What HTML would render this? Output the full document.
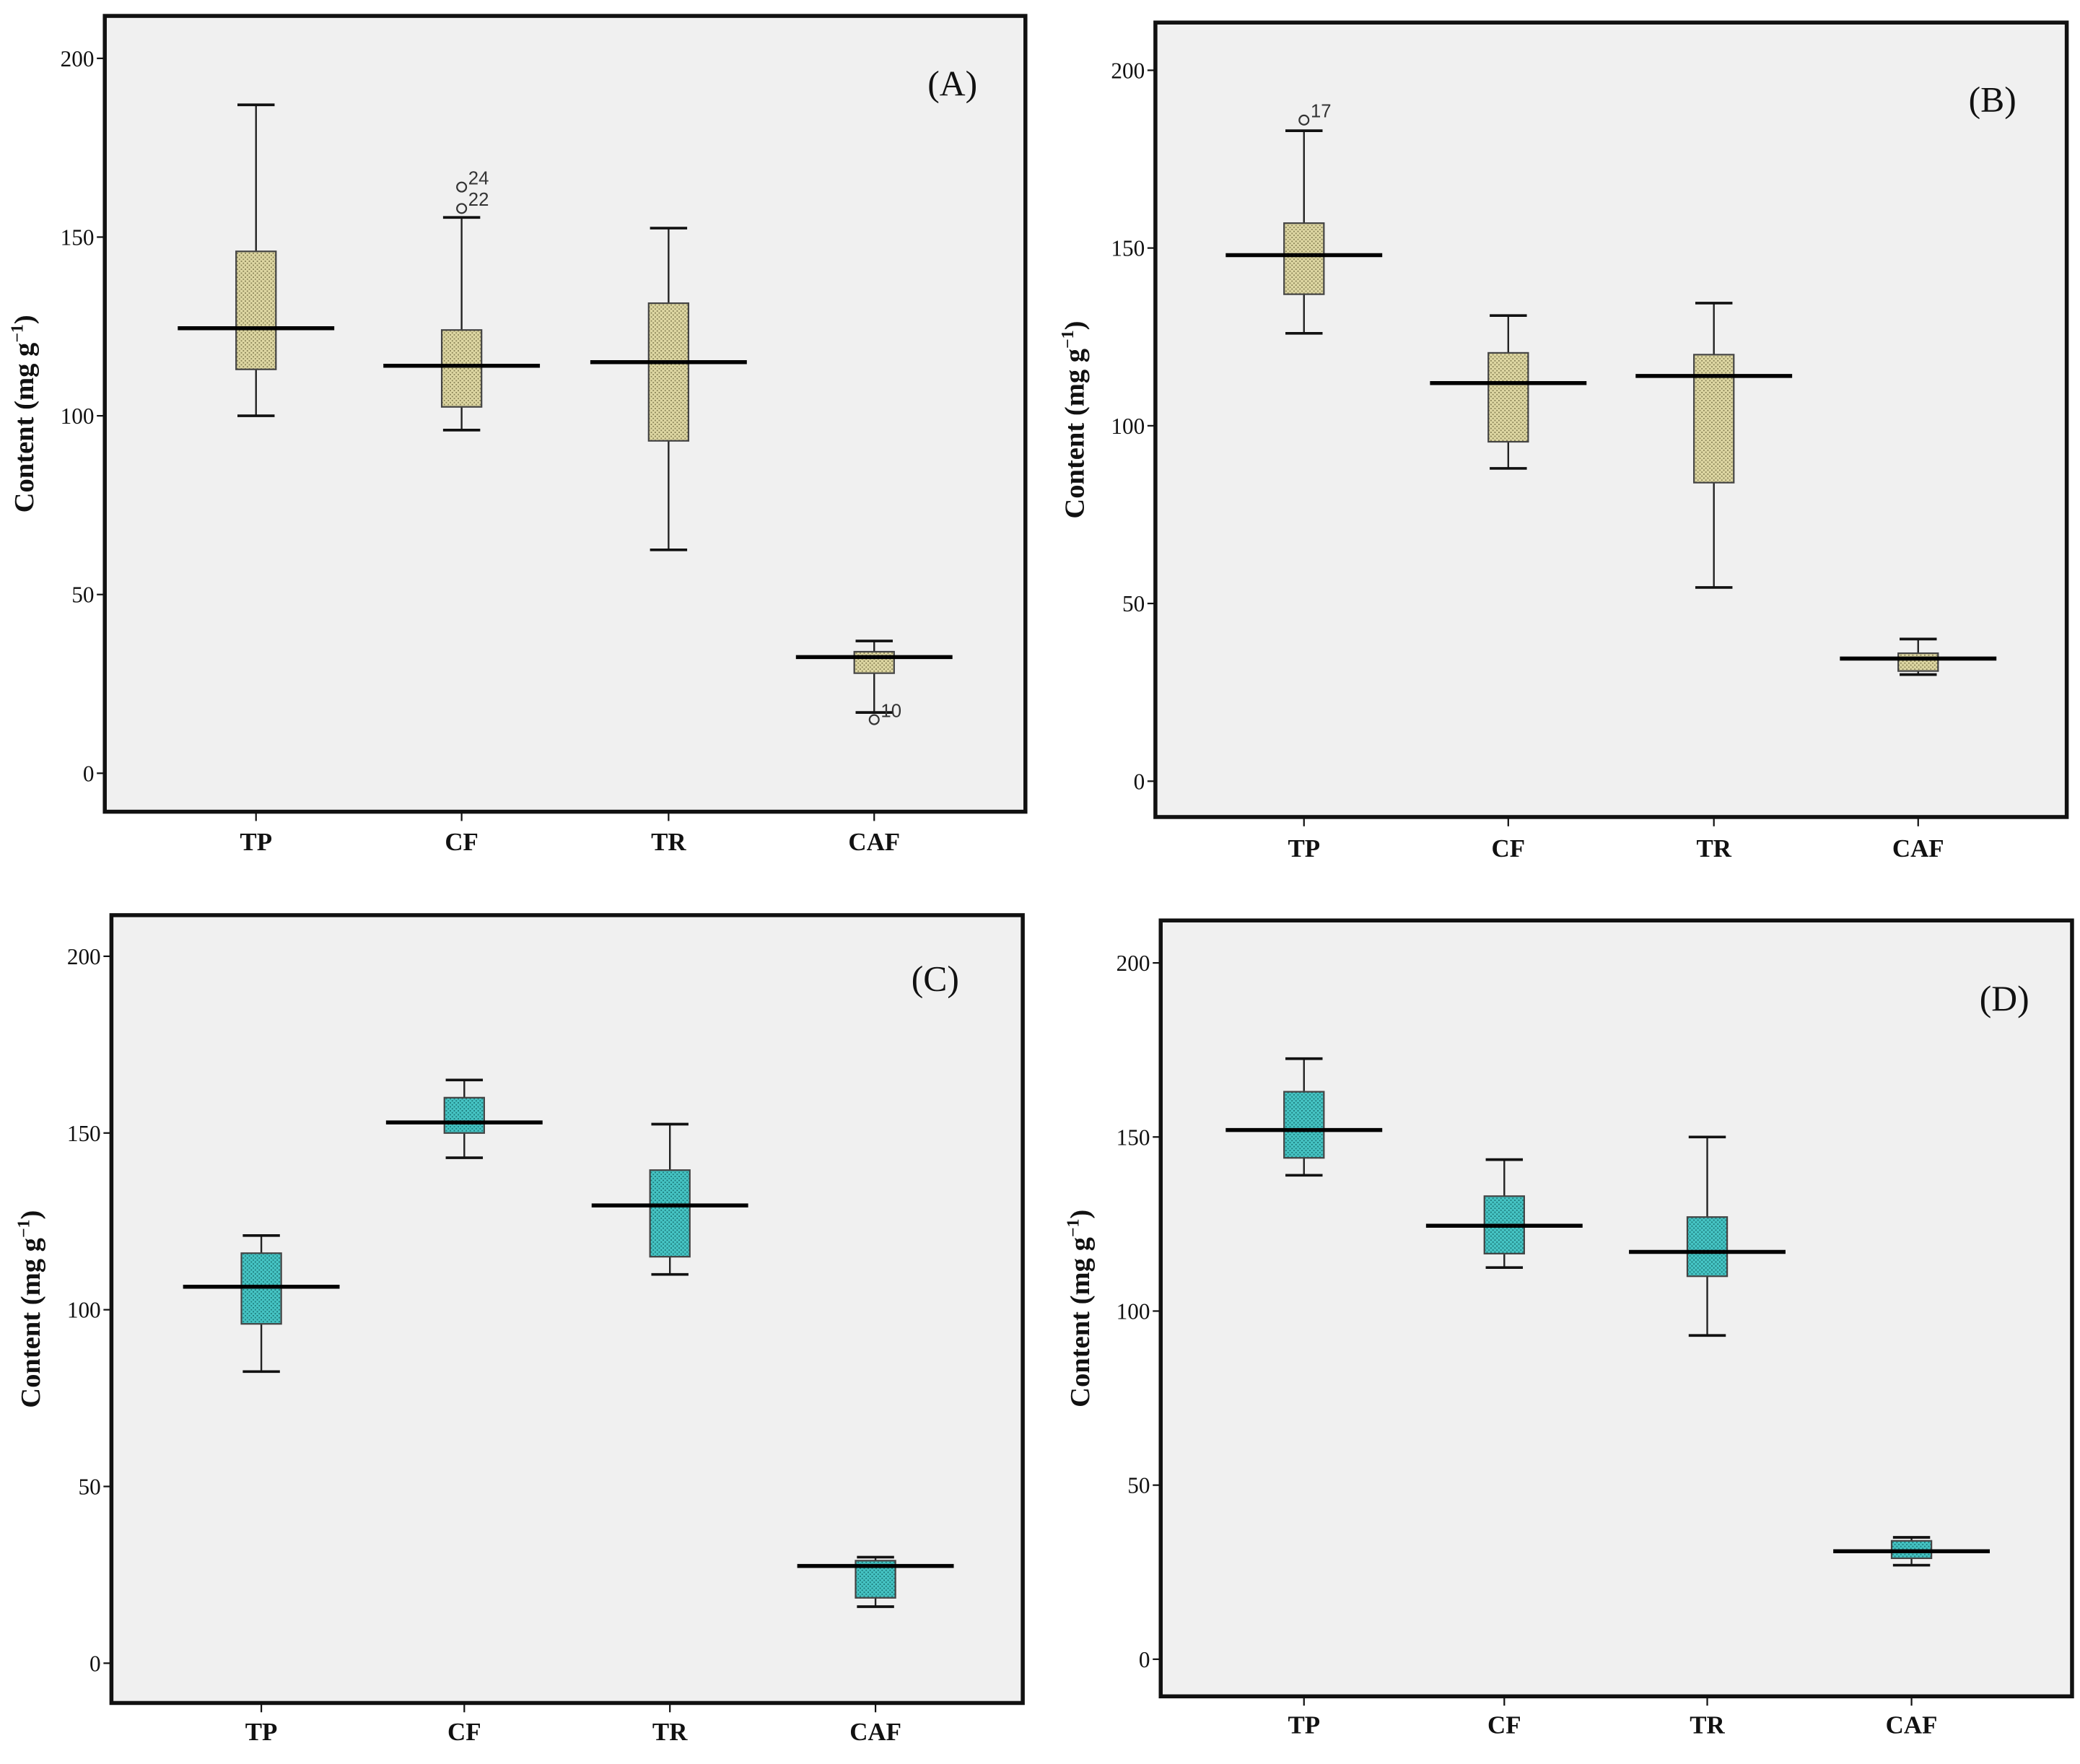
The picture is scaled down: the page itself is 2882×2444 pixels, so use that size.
<!DOCTYPE html>
<html><head><meta charset="utf-8"><style>
html,body{margin:0;padding:0;background:#fff;}
svg{display:block;}
</style></head><body>
<svg id="fig" width="2882" height="2444" viewBox="0 0 1568 1330" preserveAspectRatio="none" xmlns="http://www.w3.org/2000/svg">
<defs>
<pattern id="pTan" width="3" height="3" patternUnits="userSpaceOnUse"><rect width="3" height="3" fill="#ddd6a2"/><rect width="1" height="1" fill="#8a8458"/><rect x="1.5" y="1.5" width="1" height="1" fill="#8a8458"/></pattern>
<pattern id="pTeal" width="3" height="3" patternUnits="userSpaceOnUse"><rect width="3" height="3" fill="#45c3c3"/><rect width="1" height="1" fill="#1d7a7a"/><rect x="1.5" y="1.5" width="1" height="1" fill="#1d7a7a"/></pattern>
</defs>
</svg>
<script>
const categories = ["TP","CF","TR","CAF"];
const yTicks = [0,50,100,150,200];
// panel A
const aLow = [100,96,62.5,17], aQ1=[113,102.5,93,28], aMed=[124.5,114,115,32.5], aQ3=[146,124,131.5,34], aHigh=[187,155.5,152.5,37];
const aOutVals=[158,164,15], aOutCat=[1,1,3], aOutLbl=["22","24","10"];
// panel B
const bLow=[126,88,54.5,30], bQ1=[137,95.5,84,31], bMed=[148,112,114,34.5], bQ3=[157,120.5,120,36], bHigh=[183,131,134.5,40];
const bOutVals=[186], bOutCat=[0], bOutLbl=["17"];
// panel C
const cLow=[82.5,143,110,16], cQ1=[96,150,115,18.5], cMed=[106.5,153,129.5,27.5], cQ3=[116,160,139.5,29], cHigh=[121,165,152.5,30];
// panel D
const dLow=[139,112.5,93,27], dQ1=[144,116.5,110,29], dMed=[152,124.5,117,31], dQ3=[163,133,127,34], dHigh=[172.5,143.5,150,35];

const NS="http://www.w3.org/2000/svg";
const svg=document.getElementById('fig');
function mk(tag,attrs,parent){const e=document.createElementNS(NS,tag);for(const k in attrs)e.setAttribute(k,attrs[k]);(parent||svg).appendChild(e);return e;}

const panels=[
 {id:"a",label:"(A)",x0:79,x1:773,y0:12,y1:612,y200:44,yZero:583,cx:[193,348,504,659],catY:641,lx:718,ly:72,fill:"url(#pTan)",low:aLow,q1:aQ1,med:aMed,q3:aQ3,high:aHigh,ov:aOutVals,oc:aOutCat,ol:aOutLbl},
 {id:"b",label:"(B)",x0:871,x1:1558,y0:17,y1:616,y200:53,yZero:589,cx:[983,1137,1292,1446],catY:646,lx:1502,ly:84,fill:"url(#pTan)",low:bLow,q1:bQ1,med:bMed,q3:bQ3,high:bHigh,ov:bOutVals,oc:bOutCat,ol:bOutLbl},
 {id:"c",label:"(C)",x0:84,x1:771,y0:690,y1:1284,y200:721,yZero:1254,cx:[197,350,505,660],catY:1312,lx:705,ly:747,fill:"url(#pTeal)",low:cLow,q1:cQ1,med:cMed,q3:cQ3,high:cHigh,ov:[],oc:[],ol:[]},
 {id:"d",label:"(D)",x0:875,x1:1562,y0:694,y1:1279,y200:726,yZero:1251,cx:[983,1134,1287,1441],catY:1307,lx:1511,ly:762,fill:"url(#pTeal)",low:dLow,q1:dQ1,med:dMed,q3:dQ3,high:dHigh,ov:[],oc:[],ol:[]}
];

panels.forEach(p=>{
 const g=mk('g',{});
 
 
 const ys=v=>p.yZero+(p.y200-p.yZero)*v/200;
 const fr=mk('rect',{x:p.x0,y:p.y0,width:p.x1-p.x0,height:p.y1-p.y0,fill:'#f0f0f0',stroke:'#111','stroke-width':3},g);
 
 
 yTicks.forEach(t=>{
  const y=ys(t);
  const tl=mk('line',{x1:p.x0-6,x2:p.x0,y1:y,y2:y,stroke:'#111','stroke-width':1.2},g);
  
  
  const tx=mk('text',{x:p.x0-8,y:y+6,'text-anchor':'end','font-family':'Liberation Serif, serif','font-size':17,fill:'#111'},g);
  tx.textContent=t;
  
  
 });
 const midY=(p.y0+p.y1)/2;
 const yt=mk('text',{x:0,y:0,transform:`translate(${p.x0-54},${midY}) rotate(-90)`,'text-anchor':'middle','font-family':'Liberation Serif, serif','font-size':21,'font-weight':'bold',fill:'#111'},g);
 yt.innerHTML='Content (mg g<tspan dy="-8" font-size="13">−1</tspan><tspan dy="8">)</tspan>';
 
 
 const pl=mk('text',{x:p.lx,y:p.ly,'text-anchor':'middle','font-family':'Liberation Serif, serif','font-size':27,fill:'#111'},g);
 pl.textContent=p.label;
 
 
 categories.forEach((c,i)=>{
  const x=p.cx[i];
  const xt=mk('line',{x1:x,x2:x,y1:p.y1,y2:p.y1+7,stroke:'#111','stroke-width':1.2},g);
  
  
  const cl=mk('text',{x:x,y:p.catY,'text-anchor':'middle','font-family':'Liberation Serif, serif','font-size':19,'font-weight':'bold',fill:'#111'},g);
  cl.textContent=c;
  
  
  const bw=30, cw=28, mw=118;
  const w=mk('line',{x1:x,x2:x,y1:ys(p.high[i]),y2:ys(p.low[i]),stroke:'#222','stroke-width':1.3},g);
  
  
  [p.high[i],p.low[i]].forEach(v=>{
   const cap=mk('line',{x1:x-cw/2,x2:x+cw/2,y1:ys(v),y2:ys(v),stroke:'#111','stroke-width':2},g);
   
   
  });
  const b=mk('rect',{x:x-bw/2,y:ys(p.q3[i]),width:bw,height:ys(p.q1[i])-ys(p.q3[i]),fill:p.fill,stroke:'#444','stroke-width':1.2},g);
  
  
  const m=mk('line',{x1:x-mw/2,x2:x+mw/2,y1:ys(p.med[i]),y2:ys(p.med[i]),stroke:'#000','stroke-width':3},g);
  
  
 });
 p.ov.forEach((v,j)=>{
  const x=p.cx[p.oc[j]], y=ys(v);
  const o=mk('circle',{cx:x,cy:y,r:3.5,fill:'none',stroke:'#333','stroke-width':1.2},g);
  
  
  const ol=mk('text',{x:x+5,y:y-2,'font-family':'Liberation Sans, sans-serif','font-size':14,fill:'#333'},g);
  ol.textContent=p.ol[j];
  
  
 });
});
</script>
</body></html>
